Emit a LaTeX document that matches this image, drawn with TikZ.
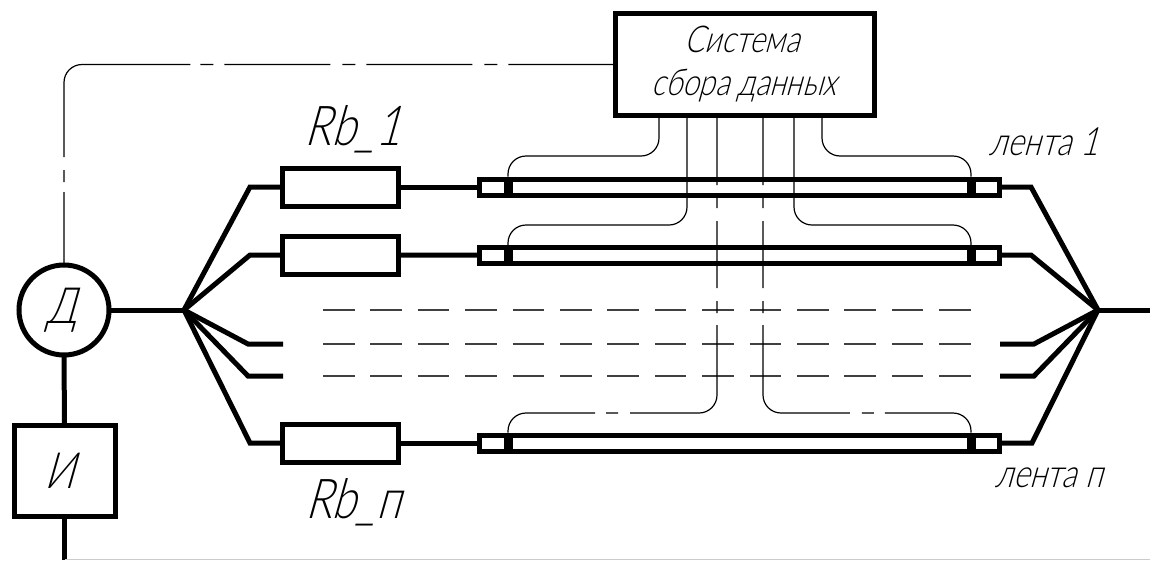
\documentclass[tikz,border=0pt]{standalone}
\usepackage{fontspec}
\setmainfont{Lato Light}[FakeSlant=0.28,FakeStretch=0.8]
\begin{document}
\begin{tikzpicture}[x=1pt, y=-1pt,
    main/.style = {rectangle, draw, line width=5pt, outer sep=0pt, inner sep=0pt},
    tape/.style = {main, minimum width=520pt, minimum height=16pt},
    res/.style = {main, minimum width=116pt, minimum height=38pt},
    clamp/.style = {rectangle, fill, outer sep=0pt, inner sep=0pt, minimum width=9pt, minimum height=21pt},
    wire/.style = {line width=5pt},
    lead/.style = {line width=1.2pt, rounded corners=18pt},
    leadaxis/.style = {lead, dash pattern=on 69pt off 11pt on 12pt off 13pt on 67pt off 13pt on 12pt off 12pt on 167pt off 12pt on 12pt off 11pt on 300pt},
    feedback/.style = {lead, dash pattern=on 73pt off 10pt on 12pt off 13pt on 211pt off 10pt on 13pt off 11pt on 106pt off 12pt on 13pt off 11pt on 106pt off 12pt on 13pt off 11pt on 300pt},
    hidden/.style = {line width=1.2pt, black!75, dash pattern=on 31.5pt off 15.9pt},
    lbl/.style = {anchor=base, inner sep=0pt}]
    \useasboundingbox (0,0) rectangle (1150,560);

    \node[main, circle, minimum size=90pt, font=\fontsize{50}{50}\selectfont] (det) at (64,310) {\hspace*{-4pt}Д};
    \node[main, minimum width=101pt, minimum height=91pt, font=\fontsize{50}{50}\selectfont] (src) at (64.5,471) {\hspace*{-10pt}И};
    \node[main, minimum width=259pt, minimum height=102pt, align=center, font=\fontsize{37}{43}\selectfont] (sys) at (745,64) {\hspace*{-6pt}Система\\\hspace*{-2pt}сбора данных};

    \node[res] (r1) at (340,187) {};
    \node[res] (r2) at (340,255) {};
    \node[res] (rn) at (340,443) {};
    \node[tape] (t1) at (739,187) {};
    \node[tape] (t2) at (739,255.5) {};
    \node[tape] (tn) at (739,443) {};
    \node[clamp] (c1l) at (508,187) {};
    \node[clamp] (c1r) at (971,187) {};
    \node[clamp] (c2l) at (508,255.5) {};
    \node[clamp] (c2r) at (971,255.5) {};
    \node[clamp] (cnl) at (508,443) {};
    \node[clamp] (cnr) at (971,443) {};

    \node[lbl, font=\fontsize{55}{55}\selectfont] (lr1) at (353,145) {Rb\_1};
    \node[lbl, font=\fontsize{55}{55}\selectfont] (lrn) at (353,518) {Rb\_п};
    \node[lbl, font=\fontsize{39}{39}\selectfont] (lt1) at (1044,155) {лента 1};
    \node[lbl, font=\fontsize{39}{39}\selectfont] (ltn) at (1049,487) {лента п};

    \coordinate (jl) at (184,310);
    \coordinate (jr) at (1098,310);
    \coordinate (endr) at (1150,310);
    \coordinate (endb) at (64.5,560);
    \coordinate (al) at (283,344);
    \coordinate (bl) at (283,376);
    \coordinate (ar) at (1000,344);
    \coordinate (br) at (1000,376);

    % wires
    \draw[wire] (det) -- (src);
    \draw[wire] (src) -- (endb);
    \draw[wire] (det) -- (jl);
    \draw[wire] (jl) -- (250,187) -- (r1);
    \draw[wire] (jl) -- (250,255) -- (r2);
    \draw[wire] (jl) -- (248,344) -- (al);
    \draw[wire] (jl) -- (248,376) -- (bl);
    \draw[wire] (jl) -- (250,443) -- (rn);
    \draw[wire] (r1) -- (t1);
    \draw[wire] (r2) -- (t2);
    \draw[wire] (rn) -- (tn);
    \draw[wire] (t1) -- (1031,187) -- (jr);
    \draw[wire] (t2) -- (1031,255) -- (jr);
    \draw[wire] (ar) -- (1034,344) -- (jr);
    \draw[wire] (br) -- (1034,376) -- (jr);
    \draw[wire] (tn) -- (1032,443) -- (jr);
    \draw[wire] (jr) -- (endr);

    % hidden tapes
    \coordinate (h1) at (323,310);
    \coordinate (h2) at (323,344);
    \coordinate (h3) at (323,376);
    \coordinate (k1) at (971,310);
    \coordinate (k2) at (971,344);
    \coordinate (k3) at (971,376);
    \draw[hidden] (h1) -- (k1);
    \draw[hidden] (h2) -- (k2);
    \draw[hidden] (h3) -- (k3);

    % leads to the data system
    \coordinate (s1) at (659,116);
    \coordinate (s2) at (687,116);
    \coordinate (s3) at (717,116);
    \coordinate (s4) at (763,116);
    \coordinate (s5) at (794,116);
    \coordinate (s6) at (822,116);
    \draw[lead] (s1) |- (c1l.north |- 0,156) -- (c1l.north);
    \draw[lead] (s2) |- (c2l.north |- 0,225) -- (c2l.north);
    \draw[leadaxis] (s3) |- (cnl.north |- 0,413) -- (cnl.north);
    \draw[leadaxis] (s4) |- (cnr.north |- 0,413) -- (cnr.north);
    \draw[lead] (s5) |- (c2r.north |- 0,225) -- (c2r.north);
    \draw[lead] (s6) |- (c1r.north |- 0,156) -- (c1r.north);
    \draw[feedback] (det.north) |- (sys.west |- 0,64.5);

    \draw[black!20, line width=1pt] (endb |- 0,559.5) -- (1150,559.5);
\end{tikzpicture}
\end{document}
